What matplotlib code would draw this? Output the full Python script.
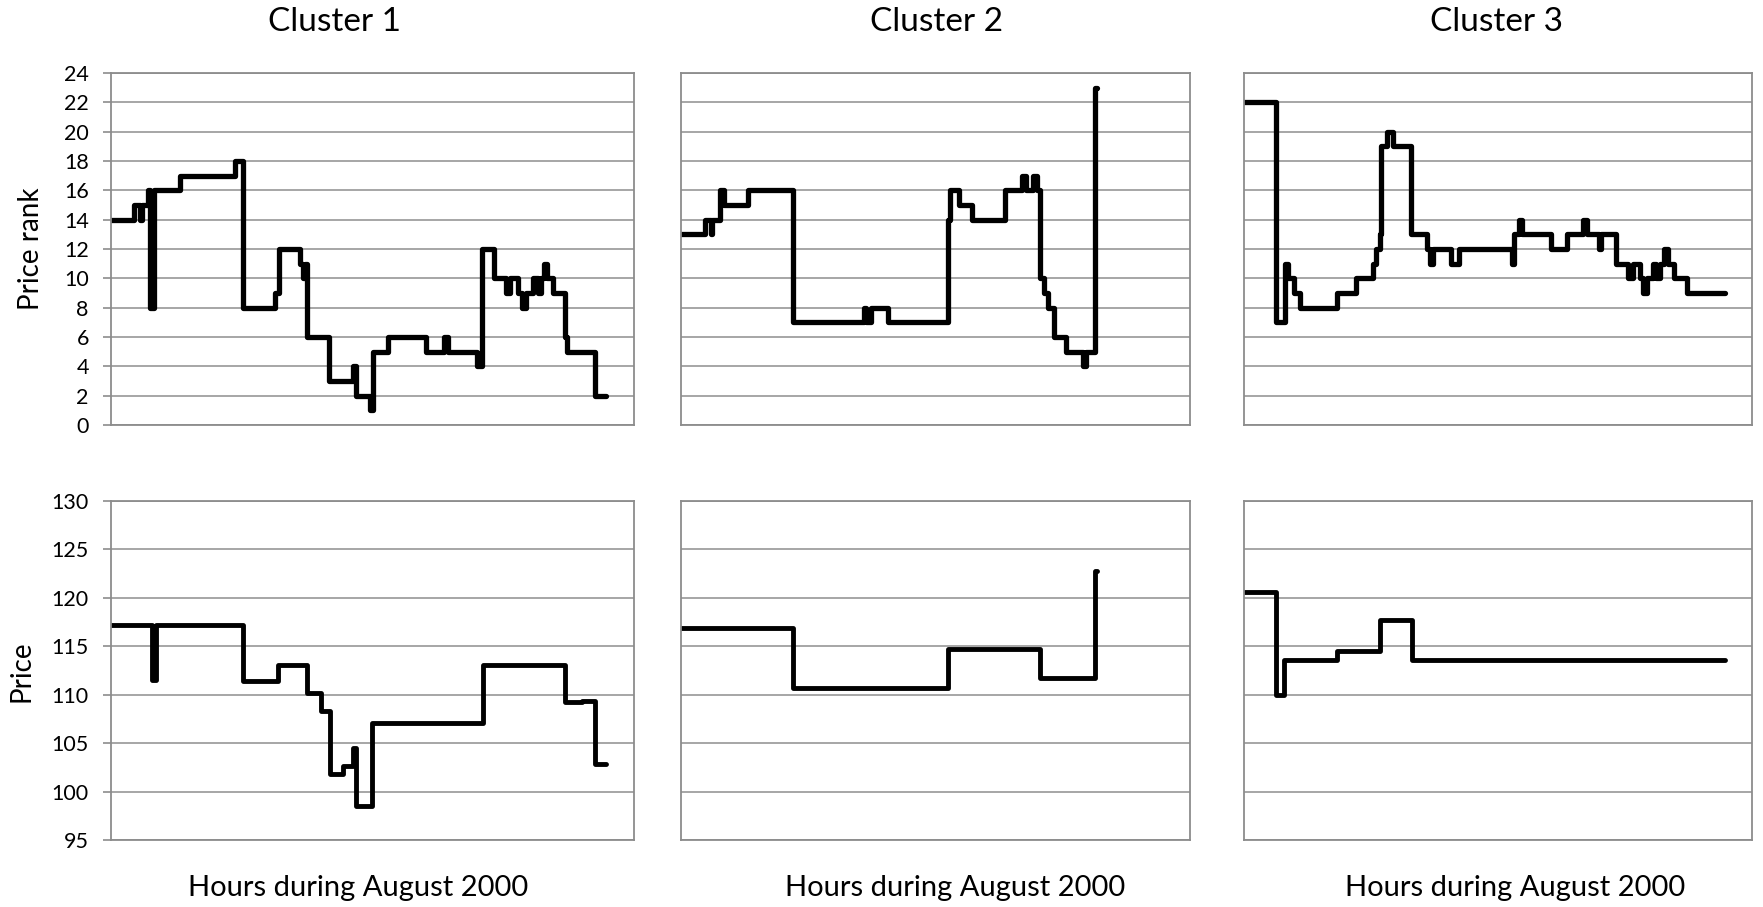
import matplotlib
matplotlib.use("Agg")
import matplotlib.pyplot as plt

plt.rcParams['font.family'] = ['Lato', 'DejaVu Sans']

# hours into August 2000 where the value changes (step data)
c1_rank_hours = [0, 35, 44, 47, 55, 59, 64, 104, 187, 198, 247, 252, 284, 288, 292,
                 295, 328, 364, 368, 389, 394, 416, 473, 501, 507, 550, 558, 575,
                 593, 600, 612, 618, 624, 634, 642, 646, 651, 655, 665, 682, 686,
                 728, 744]
c1_rank = [14, 15, 14, 15, 16, 8, 16, 17, 18, 8, 9, 12, 11, 10, 11,
           6, 3, 4, 2, 1, 5, 6, 5, 6, 5, 4, 12, 10,
           9, 10, 9, 8, 9, 10, 9, 10, 11, 10, 9, 6, 5,
           2, 2]

c2_rank_hours = [0, 37, 46, 48, 60, 66, 104, 173, 283, 286, 294, 320, 413, 416, 429,
                 449, 501, 526, 532, 543, 550, 554, 561, 567, 576, 595, 620, 625,
                 640, 643]
c2_rank = [13, 14, 13, 14, 16, 15, 16, 7, 8, 7, 8, 7, 14, 16, 15,
           14, 16, 17, 16, 17, 16, 10, 9, 8, 6, 5, 4, 5,
           23, 23]

c3_rank_hours = [0, 49, 63, 68, 78, 86, 144, 174, 199, 204, 210, 212, 221, 230, 259,
                 283, 288, 292, 321, 333, 414, 417, 425, 430, 475, 500, 525, 531,
                 549, 553, 575, 594, 602, 612, 617, 624, 633, 638, 644, 650, 656,
                 665, 686, 744]
c3_rank = [22, 7, 11, 10, 9, 8, 9, 10, 11, 12, 13, 19, 20, 19, 13,
           12, 11, 12, 11, 12, 11, 13, 14, 13, 12, 13, 14, 13,
           12, 13, 11, 10, 11, 10, 9, 10, 11, 10, 11, 12, 11,
           10, 9, 9]

c1_price_hours = [0, 62, 67, 198, 251, 295, 315, 329, 349, 363, 368, 392, 559, 683,
                  708, 727, 744]
c1_price = [117.2, 111.5, 117.2, 111.4, 113.1, 110.2, 108.3, 101.8, 102.6, 104.5,
            98.5, 107.1, 113.1, 109.2, 109.4, 102.8, 102.8]

c2_price_hours = [0, 173, 413, 554, 640, 643]
c2_price = [116.9, 110.7, 114.7, 111.7, 122.8, 122.8]

c3_price_hours = [0, 49, 62, 144, 210, 260, 744]
c3_price = [120.6, 110.0, 113.6, 114.5, 117.7, 113.6, 113.6]

titles = ["Cluster 1", "Cluster 2", "Cluster 3"]
x_label = "Hours during August 2000"
rank_ticks = list(range(0, 25, 2))
price_ticks = list(range(95, 131, 5))

W, H = 1763, 907
fig = plt.figure(figsize=(W / 100, H / 100), dpi=100)

# plot areas in pixels: (left, right) per column, (top, bottom) per row
cols = [(111, 634), (681, 1190), (1244, 1752)]
rows = [(73, 425), (501, 840)]

grid_col = '#979797'
spine_col = '#8c8c8c'


def make_ax(col, row):
    l, r = cols[col]
    t, b = rows[row]
    return fig.add_axes([l / W, 1 - b / H, (r - l) / W, (b - t) / H])


def style_ax(ax, ticks, show_labels):
    ax.set_xlim(0, 786)
    ax.set_ylim(ticks[0], ticks[-1])
    ax.set_yticks(ticks)
    ax.set_xticks([])
    ax.yaxis.grid(True, color=grid_col, linewidth=1.2)
    ax.set_axisbelow(True)
    for s in ax.spines.values():
        s.set_color(spine_col)
        s.set_linewidth(1.3)
    if show_labels:
        ax.tick_params(axis='y', length=6, width=1.2, color=spine_col,
                       labelsize=15.5, pad=10, labelcolor='black')
    else:
        ax.tick_params(axis='y', length=0, labelleft=False)


rank_data = [(c1_rank_hours, c1_rank), (c2_rank_hours, c2_rank), (c3_rank_hours, c3_rank)]
price_data = [(c1_price_hours, c1_price), (c2_price_hours, c2_price), (c3_price_hours, c3_price)]

for i in range(3):
    ax = make_ax(i, 0)
    style_ax(ax, rank_ticks, i == 0)
    hx, hy = rank_data[i]
    ax.plot(hx, hy, drawstyle='steps-post', color='black', linewidth=3.8,
            solid_capstyle='round', solid_joinstyle='round')

    ax = make_ax(i, 1)
    style_ax(ax, price_ticks, i == 0)
    hx, hy = price_data[i]
    ax.plot(hx, hy, drawstyle='steps-post', color='black', linewidth=3.5,
            solid_capstyle='round', solid_joinstyle='round')

# titles and axis labels sit over the whole chart area, as in the original
title_x = [334, 937, 1497]
xlabel_x = [358, 955, 1515]
for i in range(3):
    fig.text(title_x[i] / W, 1 - 22 / H, titles[i], ha='center', va='center', fontsize=24)
    fig.text(xlabel_x[i] / W, 1 - 888 / H, x_label, ha='center', va='center', fontsize=21)

fig.text(31 / W, 1 - 249 / H, "Price rank", rotation=90, ha='center', va='center', fontsize=20)
fig.text(22 / W, 1 - 671 / H, "Price", rotation=90, ha='center', va='center', fontsize=20)

fig.savefig("out.png", dpi=100)
